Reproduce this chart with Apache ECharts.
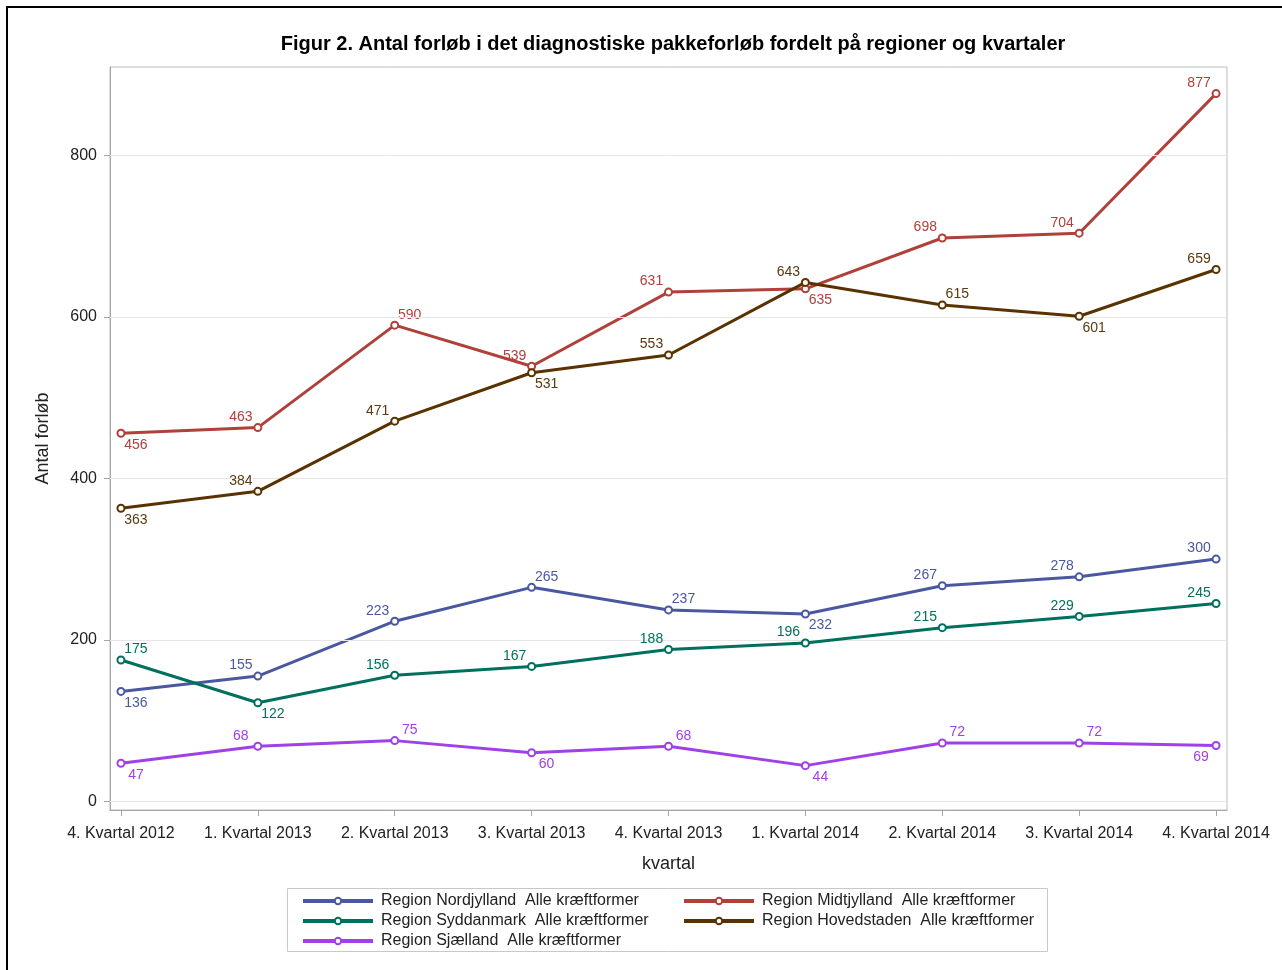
<!DOCTYPE html>
<html><head><meta charset="utf-8">
<script src="https://cdn.jsdelivr.net/npm/echarts@6/dist/echarts.min.js"></script>
<style>html,body{margin:0;padding:0;background:#fff}#c{width:1282px;height:970px}</style>
</head><body><div id="c"></div>
<script>
const categories = ['4. Kvartal 2012','1. Kvartal 2013','2. Kvartal 2013','3. Kvartal 2013','4. Kvartal 2013','1. Kvartal 2014','2. Kvartal 2014','3. Kvartal 2014','4. Kvartal 2014'];
const yTicks = [0,200,400,600,800];
const seriesNames = ['Region Nordjylland  Alle kræftformer','Region Midtjylland  Alle kræftformer','Region Syddanmark  Alle kræftformer','Region Hovedstaden  Alle kræftformer','Region Sjælland  Alle kræftformer'];
const nordjylland = [136,155,223,265,237,232,267,278,300];
const midtjylland = [456,463,590,539,631,635,698,704,877];
const syddanmark  = [175,122,156,167,188,196,215,229,245];
const hovedstaden = [363,384,471,531,553,643,615,601,659];
const sjaelland   = [47,68,75,60,68,44,72,72,69];

// label placement styles (ul = upper-left, ur = upper-right, dr = lower-right, dl = lower-left)
const posNord = ['dr','ul','ul','ur','ur','dr','ul','ul','ul'];
const posMidt = ['dr','ul','ur','ul','ul','dr','ul','ul','ul'];
const posSyd  = ['ur','dr','ul','ul','ul','ul','ul','ul','ul'];
const posHov  = ['dr','ul','ul','dr','ul','ul','ur','dr','ul'];
const posSjae = ['dr','ul','ur','dr','ur','dr','ur','ur','dl'];

const colors = ['#4a58a0','#b0403a','#00705e','#5a3200','#a040e8'];
const labelColors = ['#4a58a0','#b0403a','#00705e','#5a3a10','#a040e8'];
const values = [nordjylland, midtjylland, syddanmark, hovedstaden, sjaelland];
const positions = [posNord, posMidt, posSyd, posHov, posSjae];

function labelFor(p){
  if(p==='ul') return {position:'top',distance:0,offset:[-17,1]};
  if(p==='ur') return {position:'top',distance:0,offset:[15,1]};
  if(p==='dr') return {position:'bottom',distance:0,offset:[15,0]};
  return {position:'bottom',distance:0,offset:[-15,0]};
}

const font = 'Liberation Sans, Arial, sans-serif';
const series = values.map((arr,si)=>({
  name: seriesNames[si],
  type:'line',
  data: arr.map((v,i)=>({value:[i,v], label: labelFor(positions[si][i])})),
  symbol:'emptyCircle',
  symbolSize:7,
  lineStyle:{width:3,color:colors[si]},
  itemStyle:{color:colors[si],borderWidth:1.5},
  label:{show:true,formatter:p=>p.value[1],color:labelColors[si],fontSize:14,fontFamily:font},
  z: 3+si
}));
// reference grid lines
series.push({
  type:'line', data:[], silent:true, z:1,
  markLine:{symbol:'none',silent:true,label:{show:false},
    lineStyle:{color:'#e6e6e6',type:'solid',width:1},
    data: yTicks.map(t=>({yAxis:t}))}
});

const legendCommon = {orient:'vertical',top:888,itemWidth:70,itemHeight:8,itemGap:4,
  lineStyle:{width:4},
  textStyle:{fontFamily:font,fontSize:16,color:'#222',padding:[0,0,0,3]}};

const chart = echarts.init(document.getElementById('c'));
chart.setOption({
  animation:false,
  backgroundColor:'#fff',
  title:{text:'Figur 2. Antal forløb i det diagnostiske pakkeforløb fordelt på regioner og kvartaler',
    left:668,textAlign:'center',top:29,
    textStyle:{fontFamily:font,fontWeight:'bold',fontSize:20,color:'#000'}},
  grid:{left:110,right:55,top:67,bottom:160,show:true,borderColor:'#b9bec4',borderWidth:1,backgroundColor:'#fff'},
  xAxis:{type:'value',min:-0.08,max:8.08,
    name:'kvartal',nameLocation:'middle',nameGap:45,
    nameTextStyle:{fontFamily:font,fontSize:18,color:'#222'},
    axisLine:{show:true,onZero:false,lineStyle:{color:'#a0a6ac'}},
    axisTick:{show:true,length:6,customValues:categories.map((c,i)=>i),lineStyle:{color:'#a0a6ac'}},
    axisLabel:{customValues:categories.map((c,i)=>i),formatter:v=>categories[Math.round(v)],
      fontFamily:font,fontSize:16,color:'#222',margin:16},
    splitLine:{show:false}},
  yAxis:{type:'value',min:-11,max:910,
    name:'Antal forløb',nameLocation:'middle',nameGap:58,nameRotate:90,
    nameTextStyle:{fontFamily:font,fontSize:18,color:'#222'},
    axisLine:{show:true,onZero:false,lineStyle:{color:'#a0a6ac'}},
    axisTick:{show:true,length:6,customValues:yTicks,lineStyle:{color:'#a0a6ac'}},
    axisLabel:{customValues:yTicks,fontFamily:font,fontSize:16,color:'#222',margin:13},
    splitLine:{show:false}},
  legend:[
    Object.assign({data:[seriesNames[0],seriesNames[2],seriesNames[4]],left:296}, legendCommon),
    Object.assign({data:[seriesNames[1],seriesNames[3]],left:677}, legendCommon)
  ],
  graphic:[
    {type:'rect',shape:{x:7,y:7,width:1300,height:1000},style:{fill:'none',stroke:'#000',lineWidth:2},silent:true},
    {type:'rect',shape:{x:287.5,y:888.5,width:760,height:63},style:{fill:'none',stroke:'#c8c8c8',lineWidth:1},silent:true,z:-1}
  ],
  series: series
});
</script></body></html>
